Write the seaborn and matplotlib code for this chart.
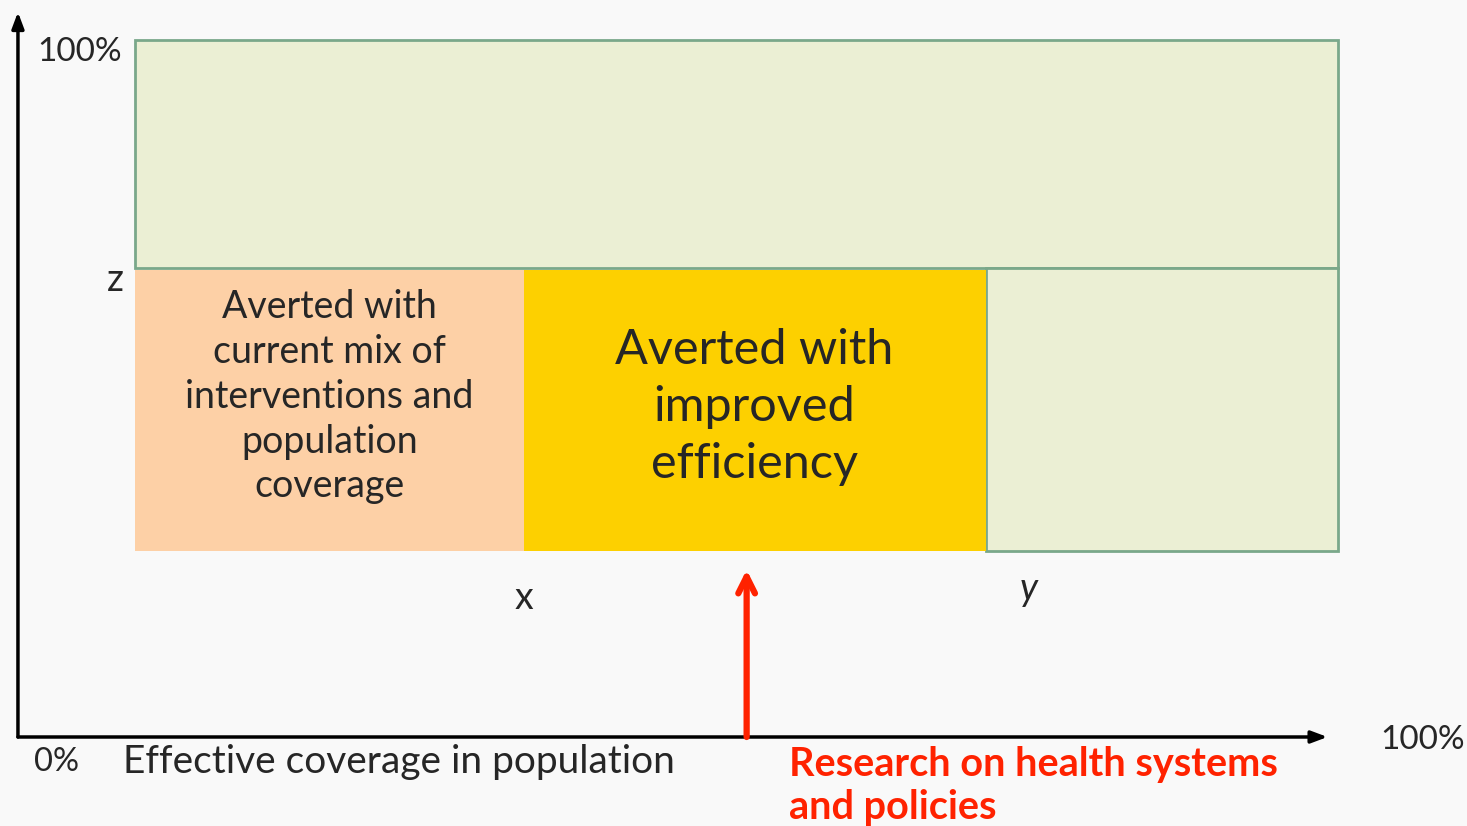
import matplotlib.pyplot as plt
import pandas as pd
import seaborn as sns

sns.set_theme(style="white")
plt.rcParams['font.family'] = ['Lato', 'DejaVu Sans']

# Coverage scale (percent of the horizontal axis) and outcome scale (percent of vertical axis)
x_marks = [8.9, 38.3, 73.3, 100.0]     # box start, x, y, 100%
z_level = 67.3                         # z
bottom_level = 26.7                    # bottom of the lower boxes
top_level = 100.0
research_at = 55.2                     # position of red arrow

box_names = ['remaining', 'current mix', 'improved efficiency', 'not averted']
box_left = [x_marks[0], x_marks[0], x_marks[1], x_marks[2]]
box_right = [x_marks[3], x_marks[1], x_marks[2], x_marks[3]]
box_bottom = [z_level, bottom_level, bottom_level, bottom_level]
box_top = [top_level, z_level - 0.3, z_level - 0.3, z_level]
box_color = ['#ebefd4', '#fdd0a6', '#fdd000', '#ebefd4']
box_edge = ['#7aa88a', 'none', 'none', '#7aa88a']

boxes = pd.DataFrame({'name': box_names, 'left': box_left, 'right': box_right,
                      'bottom': box_bottom, 'top': box_top,
                      'color': box_color, 'edge': box_edge})

fig = plt.figure(figsize=(14.67, 8.26), dpi=100, facecolor='#f9f9f9')
ax = fig.add_axes([0, 0, 1, 1])
ax.set_facecolor('#f9f9f9')
ax.set_xlim(-1.36, 109.77)
ax.set_ylim(-12.77, 105.74)
ax.axis('off')

for _, b in boxes.iterrows():
    ax.bar(b['left'], b['top'] - b['bottom'], width=b['right'] - b['left'], bottom=b['bottom'],
           align='edge', color=b['color'], edgecolor=b['edge'], linewidth=2 if b['edge'] != 'none' else 0,
           zorder=2 if b['edge'] == 'none' else 1)

# axes arrows
ax.annotate('', xy=(0, 104.0), xytext=(0, 0), annotation_clip=False,
            arrowprops=dict(arrowstyle='-|>,head_length=0.8,head_width=0.3', color='black', lw=2.5,
                            shrinkA=0, shrinkB=0))
ax.annotate('', xy=(99.2, 0), xytext=(0, 0), annotation_clip=False,
            arrowprops=dict(arrowstyle='-|>,head_length=0.8,head_width=0.3', color='black', lw=2.5,
                            shrinkA=0, shrinkB=0))

# red research arrow
ax.annotate('', xy=(research_at, 24.0), xytext=(research_at, 0), zorder=5,
            arrowprops=dict(arrowstyle='->,head_length=1.0,head_width=0.5', color='#ff2200', lw=4.5,
                            shrinkA=0, shrinkB=0, capstyle='round', joinstyle='round'))

ax.text(4.7, 98.3, '100%', fontsize=24, ha='center', va='center')
ax.text(7.4, 65.6, 'z', fontsize=27, ha='center', va='center')
ax.text(x_marks[1], 20.0, 'x', fontsize=27, ha='center', va='center')
ax.text(x_marks[2] + 3.3, 21.3, 'y', fontsize=27, ha='center', va='center', style='italic')
ax.text(2.9, -3.6, '0%', fontsize=23.5, ha='center', va='center')
ax.text(7.95, -3.6, 'Effective coverage in population', fontsize=28, ha='left', va='center')
ax.text(106.4, -0.4, '100%', fontsize=24, ha='center', va='center')
ax.text(58.4, -1.3, 'Research on health systems\nand policies', fontsize=28.5, ha='left', va='top',
        color='#ff2200', fontweight='bold', linespacing=1.2)

ax.text((x_marks[0] + x_marks[1]) / 2, (z_level + bottom_level) / 2 + 1.8,
        'Averted with\ncurrent mix of\ninterventions and\npopulation\ncoverage',
        fontsize=27, ha='center', va='center', linespacing=1.3, zorder=3)
ax.text((x_marks[1] + x_marks[2]) / 2, (z_level + bottom_level) / 2 + 0.3,
        'Averted with\nimproved\nefficiency',
        fontsize=35, ha='center', va='center', linespacing=1.36, zorder=3)

fig.savefig('out.png', dpi=100, facecolor=fig.get_facecolor())
